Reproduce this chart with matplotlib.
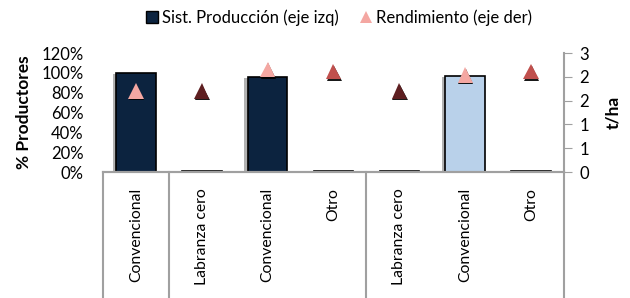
import numpy as np
import matplotlib.pyplot as plt
import matplotlib.patheffects as pe
from matplotlib.lines import Line2D
from matplotlib.ticker import FuncFormatter

plt.rcParams["font.family"] = ["Lato", "DejaVu Sans"]

# datos
categorias = ["Convencional", "Labranza cero", "Convencional", "Otro",
              "Labranza cero", "Convencional", "Otro"]
productores = [1.00, 0.015, 0.96, 0.015, 0.01, 0.97, 0.01]   # % productores (eje izq)
rendimiento = [1.70, 1.70, 2.16, 2.11, 1.70, 2.04, 2.11]     # t/ha (eje der)
grupos = [1, 3, 3]  # nº de categorías por grupo

navy = "#0C233F"
celeste = "#B9D1EA"
rosa = "#F4A7A2"
granate = "#5E1F21"
rojo = "#C0504D"
color_barras = [navy, navy, navy, navy, celeste, celeste, celeste]
color_tri = {"Convencional": rosa, "Labranza cero": granate, "Otro": rojo}

fig = plt.figure(figsize=(6.3, 2.98), dpi=100)
ax = fig.add_axes([0.1635, 0.4228, 0.7316, 0.3992])
ax2 = ax.twinx()

x = np.arange(len(categorias))
bars = ax.bar(x, productores, width=0.6, color=color_barras,
              edgecolor="black", linewidth=1.2, zorder=2)
for b in bars:
    b.set_path_effects([pe.SimplePatchShadow(offset=(-2.5, -1), shadow_rgbFace="gray", alpha=0.6),
                        pe.Normal()])

for i in range(len(categorias)):
    ax2.plot(x[i], rendimiento[i], marker="^", markersize=11, linestyle="none",
             color=color_tri[categorias[i]], markeredgewidth=0,
             path_effects=[pe.SimplePatchShadow(offset=(0.5, -1.2), shadow_rgbFace="black", alpha=0.9),
                           pe.Normal()], zorder=3)

ax.set_xlim(-0.5, len(categorias) - 0.5)
ax.set_ylim(0, 1.2)
ax.set_yticks(np.arange(0, 1.21, 0.2))
ax.yaxis.set_major_formatter(FuncFormatter(lambda v, p: f"{v*100:.0f}%"))
ax2.set_ylim(0, 2.5)
ax2.set_yticks(np.arange(0, 2.51, 0.5))
ax2.yaxis.set_major_formatter(FuncFormatter(lambda v, p: f"{int(np.floor(v + 0.5))}"))

# etiquetas de categoría (alineadas arriba, justo bajo el eje)
ax.set_xticks(x)
ax.set_xticklabels([])
for i, c in enumerate(categorias):
    ax.text(x[i], -0.135, c, transform=ax.get_xaxis_transform(), rotation=90,
            rotation_mode="anchor", ha="right", va="center", fontsize=11.3)
ax.tick_params(axis="x", length=0)
ax.tick_params(axis="y", length=0, labelsize=12, pad=14)
ax2.tick_params(axis="y", length=6, color="#A0A0A0", labelsize=12, pad=5)

for a in (ax, ax2):
    for s in ("top", "left", "right"):
        a.spines[s].set_visible(False)
    a.spines["bottom"].set_color("#A0A0A0")
    a.spines["bottom"].set_linewidth(1.5)
ax2.spines["right"].set_visible(True)
ax2.spines["right"].set_color("#A0A0A0")
ax2.spines["right"].set_linewidth(1.5)

# separadores de grupos bajo el eje
limites = np.concatenate([[0], np.cumsum(grupos)]) - 0.5
for lx in limites:
    ax.plot([lx, lx], [0, -1.1], transform=ax.get_xaxis_transform(),
            color="#A0A0A0", linewidth=1.5, clip_on=False)

ax.set_ylabel("% Productores", fontsize=12.5, fontweight="bold", labelpad=7)
ax2.set_ylabel("t/ha", fontsize=12.5, fontweight="bold", labelpad=12)

handles = [Line2D([], [], marker="s", linestyle="none", markersize=9,
                  markerfacecolor=navy, markeredgecolor="black"),
           Line2D([], [], marker="^", linestyle="none", markersize=9,
                  markerfacecolor=rosa, markeredgewidth=0)]
fig.legend(handles, ["Sist. Producción (eje izq)", "Rendimiento (eje der)"],
           loc="center", bbox_to_anchor=(0.536, 0.94), ncol=2, frameon=False,
           fontsize=12, handletextpad=0.1, columnspacing=1.1, handlelength=1.0)

fig.savefig("out.png", dpi=100)
